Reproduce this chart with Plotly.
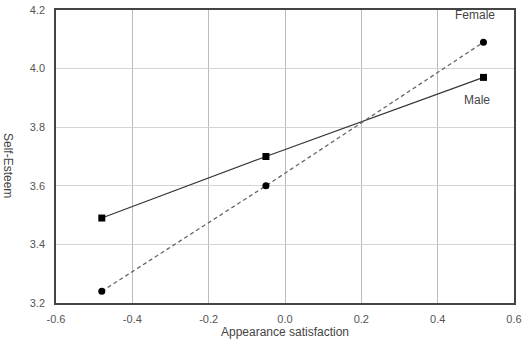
import plotly.graph_objects as go

x_vals = [-0.48, -0.05, 0.52]
male = [3.49, 3.70, 3.97]
female = [3.24, 3.60, 4.09]
x_ticks = [-0.6, -0.4, -0.2, 0.0, 0.2, 0.4, 0.6]
y_ticks = [3.2, 3.4, 3.6, 3.8, 4.0, 4.2]

fig = go.Figure()
fig.add_trace(go.Scatter(x=x_vals, y=male, mode="lines+markers", name="Male",
                         line=dict(color="#333333", width=1.2),
                         marker=dict(symbol="square", size=7, color="black")))
fig.add_trace(go.Scatter(x=x_vals, y=female, mode="lines+markers", name="Female",
                         line=dict(color="#666666", width=1.3, dash="4px,3px"),
                         marker=dict(symbol="circle", size=7, color="black")))

fig.add_annotation(x=x_vals[-1], y=female[-1], text="Female", showarrow=False,
                   yshift=27, xshift=-8, font=dict(size=12, color="#444444"))
fig.add_annotation(x=x_vals[-1], y=male[-1], text="Male", showarrow=False,
                   yshift=-23, xshift=-6, font=dict(size=12, color="#444444"))
fig.add_annotation(xref="paper", yref="paper", x=-0.105, y=0.468, text="Self-Esteem",
                   xanchor="center", yanchor="middle",
                   textangle=90, showarrow=False, font=dict(size=12, color="#444444"))

fig.update_layout(
    width=527, height=352,
    margin=dict(l=56, r=13, t=10, b=49, autoexpand=False),
    paper_bgcolor="white", plot_bgcolor="white",
    showlegend=False,
    font=dict(family="Liberation Sans, Arial, sans-serif", size=11, color="#555555"),
    xaxis=dict(range=[-0.6, 0.6], tickvals=x_ticks, automargin=False,
               ticktext=[f"{v:.1f}" for v in x_ticks],
               showgrid=True, gridcolor="#bbbbbb", gridwidth=1,
               showline=True, linecolor="#444444", linewidth=1.5, mirror=True,
               zeroline=False, ticks="", ticklen=0, ticklabelstandoff=5,
               title=dict(text="Appearance satisfaction", font=dict(size=12, color="#444444"), standoff=3)),
    yaxis=dict(range=[3.2, 4.2], tickvals=y_ticks, automargin=False,
               ticktext=[f"{v:.1f}" for v in y_ticks],
               showgrid=True, gridcolor="#d4d4d4", gridwidth=1,
               showline=True, linecolor="#444444", linewidth=1.5, mirror=True,
               zeroline=False, ticks="", ticklen=0, ticklabelstandoff=7),
)

fig.write_html("out.html")
